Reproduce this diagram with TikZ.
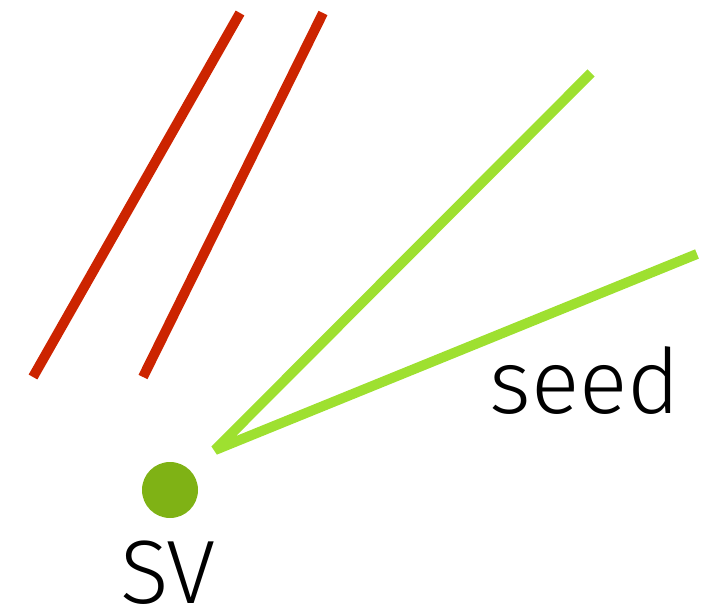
\documentclass[tikz,border=0pt]{standalone}
\usepackage{fontspec}
\setmainfont{Fira Sans}[UprightFont=* Light]
\definecolor{redline}{RGB}{204,36,0}
\definecolor{greenline}{RGB}{158,224,48}
\definecolor{dotgreen}{RGB}{127,178,21}
\begin{document}
\begin{tikzpicture}[x=1pt,y=-1pt,
  redstroke/.style={draw=redline,line width=10pt},
  greenstroke/.style={draw=greenline,line width=10pt,line join=bevel},
  label/.style={inner sep=0pt,anchor=base,text depth=0pt,font=\fontsize{90}{100}\selectfont}]
\useasboundingbox (0,0) rectangle (711,612);
\draw[redstroke] (240,13) -- (33,377);
\draw[redstroke] (323,13) -- (143,377);
\coordinate (apex) at (215,450);
\coordinate (g1) at (591,73);
\coordinate (g2) at (697,254);
\draw[greenstroke] (g1) -- (apex) -- (g2);
\node[circle,fill=dotgreen,minimum size=56pt,inner sep=0pt] (sv) at (170,490) {};
\node[label] (svt) at (168,603) {SV};
\node[label] (seed) at (585,413) {seed};
\end{tikzpicture}
\end{document}
